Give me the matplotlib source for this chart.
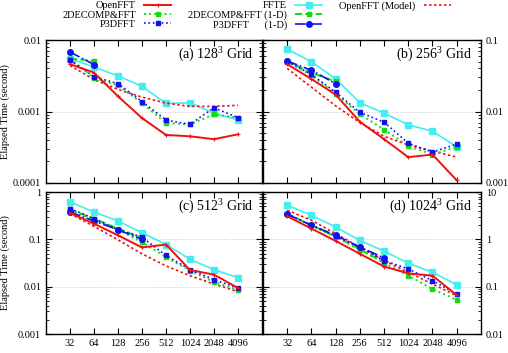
import matplotlib
matplotlib.use('Agg')
import matplotlib.pyplot as plt
from matplotlib.lines import Line2D
from matplotlib.ticker import FixedLocator, FuncFormatter, LogLocator, NullLocator

plt.rcParams['font.family'] = 'Liberation Serif'
plt.rcParams['mathtext.fontset'] = 'custom'
plt.rcParams['mathtext.rm'] = 'Liberation Serif'
plt.rcParams['mathtext.it'] = 'Liberation Serif:italic'
plt.rcParams['axes.unicode_minus'] = False

# --- data (elapsed time in seconds) ---
procs = [32, 64, 128, 256, 512, 1024, 2048, 4096]

# (a) 128^3
openfft_128 = [0.0046, 0.0035, 0.00163, 0.00081, 0.00047, 0.00045, 0.00041, 0.00048]
ffte_128 = [0.0055, 0.0042, 0.00315, 0.00225, 0.0013, 0.00132, 0.00095, 0.00076]
model_128 = [0.0044, 0.0028, 0.00204, 0.00159, 0.00131, 0.00118, 0.00118, 0.00122]
decomp_128 = [0.0055, 0.00295, 0.00232, 0.00131, 0.00069, 0.00066, 0.00091, 0.00082]
decomp1d_128 = [0.0055, 0.0051]
p3d_128 = [0.0052, 0.00308, 0.00245, 0.00138, 0.00076, 0.00066, 0.00113, 0.00082]
p3d1d_128 = [0.0068, 0.00454]

# (b) 256^3
openfft_256 = [0.046, 0.0285, 0.0172, 0.0072, 0.0041, 0.0023, 0.0025, 0.00109]
ffte_256 = [0.075, 0.0496, 0.0286, 0.0133, 0.0095, 0.0065, 0.0053, 0.0032]
model_256 = [0.040, 0.0219, 0.012, 0.0070, 0.0045, 0.0034, 0.0028, 0.0023]
decomp_256 = [0.0508, 0.0321, 0.0176, 0.0092, 0.0056, 0.0033, 0.0025, 0.0032]
decomp1d_256 = [0.0508, 0.0347, 0.0264]
p3d_256 = [0.050, 0.033, 0.0186, 0.0097, 0.0071, 0.0036, 0.0027, 0.0035]
p3d1d_256 = [0.0508, 0.0378, 0.0245]

# (c) 512^3
openfft_512 = [0.363, 0.215, 0.122, 0.0676, 0.078, 0.0226, 0.018, 0.0094]
ffte_512 = [0.62, 0.38, 0.245, 0.139, 0.078, 0.0382, 0.023, 0.0155]
model_512 = [0.35, 0.189, 0.098, 0.0496, 0.0275, 0.0171, 0.0114, 0.0079]
decomp_512 = [0.414, 0.262, 0.16, 0.0877, 0.0421, 0.0219, 0.0126, 0.0085]
decomp1d_512 = [0.43, 0.275, 0.17, 0.108]
p3d_512 = [0.45, 0.275, 0.16, 0.112, 0.0457, 0.0231, 0.0141, 0.0094]
p3d1d_512 = [0.38, 0.245, 0.16, 0.100]

# (d) 1024^3
openfft_1024 = [3.09, 1.69, 0.93, 0.496, 0.267, 0.192, 0.171, 0.0665]
ffte_1024 = [5.29, 3.24, 1.83, 0.95, 0.565, 0.313, 0.202, 0.11]
model_1024 = [4.14, 2.54, 1.32, 0.687, 0.357, 0.202, 0.114, 0.0645]
decomp_1024 = [3.4, 1.99, 1.12, 0.603, 0.319, 0.171, 0.0892, 0.0529]
decomp1d_1024 = [3.5, 2.0, 1.15, 0.62, 0.33]
p3d_1024 = [3.4, 2.0, 1.16, 0.687, 0.357, 0.238, 0.134, 0.0698]
p3d1d_1024 = [3.4, 1.99, 1.22, 0.687, 0.407]

panels = [
    ('(a) 128$^3$ Grid', (1e-4, 1e-2), openfft_128, ffte_128, model_128, decomp_128, decomp1d_128, p3d_128, p3d1d_128),
    ('(b) 256$^3$ Grid', (1e-3, 1e-1), openfft_256, ffte_256, model_256, decomp_256, decomp1d_256, p3d_256, p3d1d_256),
    ('(c) 512$^3$ Grid', (1e-3, 1e0), openfft_512, ffte_512, model_512, decomp_512, decomp1d_512, p3d_512, p3d1d_512),
    ('(d) 1024$^3$ Grid', (1e-2, 1e1), openfft_1024, ffte_1024, model_1024, decomp_1024, decomp1d_1024, p3d_1024, p3d1d_1024),
]

# --- styles ---
RED = '#ee1111'
CYAN = '#44eeee'
GREEN = '#11dd11'
BLUE = '#1111ee'
styles = {
    'OpenFFT': dict(color=RED, ls='-', lw=1.4, marker='+', ms=3.5, mew=0.8),
    'FFTE': dict(color=CYAN, ls='-', lw=1.2, marker='s', ms=4.5),
    'OpenFFT (Model)': dict(color=RED, ls=(0, (1.5, 1.5)), lw=1.2, marker=None),
    '2DECOMP&FFT': dict(color=GREEN, ls=':', lw=1.4, marker='s', ms=3),
    '2DECOMP&FFT (1-D)': dict(color=GREEN, ls='--', lw=1.4, marker='s', ms=3),
    'P3DFFT': dict(color=BLUE, ls=':', lw=1.2, marker='s', ms=3),
    'P3DFFT      (1-D)': dict(color=BLUE, ls='-.', lw=1.2, marker='o', ms=4),
}

fig = plt.figure(figsize=(5.08, 3.53), dpi=100)
rects = [
    (0.0906, 0.4816, 0.425, 0.405),
    (0.5177, 0.4816, 0.429, 0.405),
    (0.0906, 0.0538, 0.425, 0.402),
    (0.5177, 0.0538, 0.429, 0.402),
]

fmt = FuncFormatter(lambda v, p: '%g' % v)

for i, (title, ylim, of, ff, md, dc, dc1, p3, p31) in enumerate(panels):
    ax = fig.add_axes(rects[i])
    ax.plot(procs, ff, **styles['FFTE'])
    ax.plot(procs, md, **styles['OpenFFT (Model)'])
    ax.plot(procs, dc, **styles['2DECOMP&FFT'])
    ax.plot(procs[:len(dc1)], dc1, **styles['2DECOMP&FFT (1-D)'])
    ax.plot(procs, p3, **styles['P3DFFT'])
    ax.plot(procs[:len(p31)], p31, **styles['P3DFFT      (1-D)'])
    ax.plot(procs, of, **styles['OpenFFT'])

    ax.set_xscale('log', base=2)
    ax.set_yscale('log')
    ax.set_xlim(16, 8192)
    ax.set_ylim(*ylim)
    ax.xaxis.set_major_locator(FixedLocator(procs))
    ax.xaxis.set_minor_locator(NullLocator())
    ax.xaxis.set_major_formatter(FuncFormatter(lambda v, p: '%d' % v))
    ax.yaxis.set_major_locator(LogLocator(base=10, numticks=10))
    ax.yaxis.set_minor_locator(LogLocator(base=10, subs=range(2, 10), numticks=10))
    ax.yaxis.set_major_formatter(fmt)
    ax.grid(axis='y', which='major', color='#c8c8c8', ls=':', lw=0.7)

    right = (i % 2 == 1)
    bottom = (i >= 2)
    ax.tick_params(which='both', direction='in', top=True, right=True, left=True, bottom=True,
                   labelsize=7.5, labelleft=not right, labelright=right, labelbottom=bottom)
    ax.tick_params(which='major', length=4, width=0.8)
    ax.tick_params(which='minor', length=2, width=0.6)
    for sp in ax.spines.values():
        sp.set_linewidth(1.0)
    ax.text(0.96, 0.96, title, transform=ax.transAxes, ha='right', va='top', fontsize=10)
    if not right:
        ax.set_ylabel('Elapsed Time (second)', fontsize=7.5)
        ax.yaxis.set_label_coords(-0.165, 0.5)

# --- legend across the top ---
names = ['OpenFFT', '2DECOMP&FFT', 'P3DFFT',
         'FFTE', '2DECOMP&FFT (1-D)', 'P3DFFT      (1-D)',
         'OpenFFT (Model)', None, None]
handles = []
labels = []
for n in names:
    if n is None:
        handles.append(Line2D([], [], ls='none'))
        labels.append(' ')
    else:
        handles.append(Line2D([], [], **styles[n]))
        labels.append(n)
fig.legend(handles, labels, loc='upper center', bbox_to_anchor=(0.505, 1.0), ncol=3,
           frameon=False, markerfirst=False, handlelength=2.6, fontsize=7.5,
           labelspacing=0.0, columnspacing=1.6, handletextpad=0.8,
           borderpad=0.1, borderaxespad=0.0)

fig.savefig('out.png', dpi=100)
